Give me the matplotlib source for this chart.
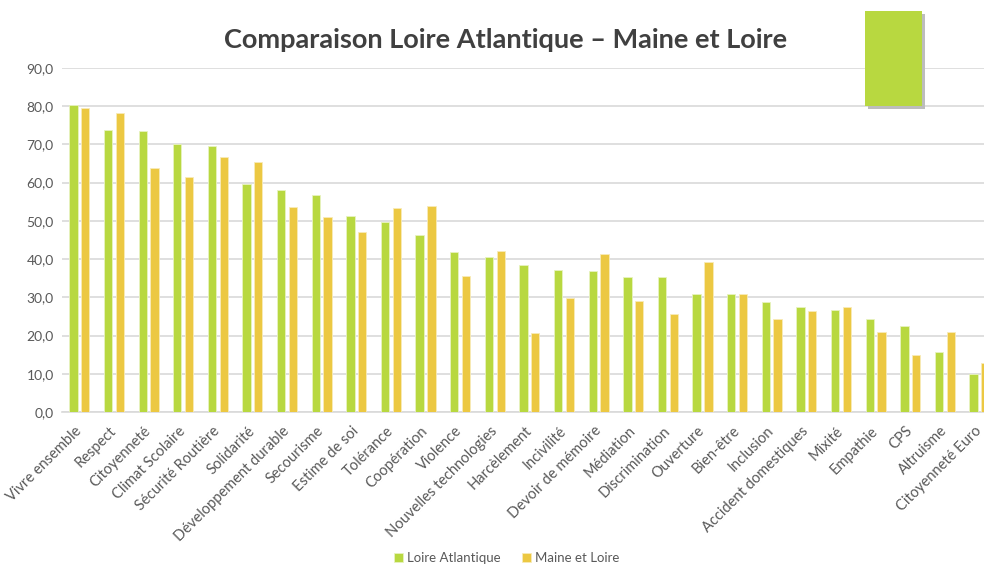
import matplotlib.pyplot as plt
import numpy as np
from matplotlib.patches import Rectangle

categories = ["Vivre ensemble", "Respect", "Citoyenneté", "Climat Scolaire", "Sécurité Routière",
              "Solidarité", "Développement durable", "Secourisme", "Estime de soi", "Tolérance",
              "Coopération", "Violence", "Nouvelles technologies", "Harcèlement", "Incivilité",
              "Devoir de mémoire", "Médiation", "Discrimination", "Ouverture", "Bien-être",
              "Inclusion", "Accident domestiques", "Mixité", "Empathie", "CPS", "Altruisme",
              "Citoyenneté Euro"]
loire_atlantique = [80.3, 73.7, 73.4, 70.1, 69.5, 59.6, 58.0, 56.8, 51.2, 49.6,
                    46.3, 41.8, 40.5, 38.5, 37.2, 36.9, 35.3, 35.4, 30.9, 30.9,
                    28.8, 27.6, 26.8, 24.3, 22.6, 15.7, 10.0]
maine_et_loire = [79.5, 78.3, 63.8, 61.4, 66.7, 65.5, 53.6, 51.1, 47.1, 53.3,
                  53.8, 35.6, 42.2, 20.8, 29.9, 41.3, 29.1, 25.6, 39.2, 30.9,
                  24.4, 26.4, 27.6, 21.0, 14.9, 21.0, 12.8]

green = "#B8D840"
yellow = "#ECC842"
grey_txt = "#595959"

plt.rcParams['font.family'] = ['Lato', 'DejaVu Sans']

fig = plt.figure(figsize=(9.84, 5.66), dpi=100)
ax = fig.add_axes([0.063, 0.272, 0.950, 0.608])

x = np.arange(len(categories))
w = 0.24
ax.bar(x - 0.17, loire_atlantique, w, color=green, edgecolor="#E8F3C0", linewidth=0.6,
       label="Loire Atlantique", zorder=3)
ax.bar(x + 0.17, maine_et_loire, w, color=yellow, edgecolor="#F8EBB8", linewidth=0.6,
       label="Maine et Loire", zorder=3)

ax.set_xlim(-0.5, len(categories) - 0.5)
ax.set_ylim(0, 90)
ax.set_yticks(np.arange(0, 91, 10))
ax.set_yticklabels([f"{v:.1f}".replace(".", ",") for v in range(0, 91, 10)])
ax.grid(axis='y', color="#D9D9D9", linewidth=1.2, zorder=0)
for s in ["top", "right", "left"]:
    ax.spines[s].set_visible(False)
ax.spines["bottom"].set_color("#D9D9D9")
ax.spines["bottom"].set_linewidth(1.2)
ax.tick_params(axis='both', length=0, colors=grey_txt, labelsize=10)
ax.tick_params(axis='y', pad=6)
ax.tick_params(axis='x', pad=12)
ax.set_xticks(x)
ax.set_xticklabels(categories, rotation=45, ha='right', va='center', rotation_mode='anchor',
                   fontsize=10.5)

fig.text(0.514, 0.93, "Comparaison Loire Atlantique – Maine et Loire", ha='center', va='center',
         fontsize=19.5, fontweight='bold', color="#404040")

# stray shape in the top right corner
fig.patches.append(Rectangle((0.882, 0.808), 0.058, 0.168, transform=fig.transFigure,
                             facecolor="#BDBDBD", edgecolor="none", zorder=1))
fig.patches.append(Rectangle((0.879, 0.812), 0.058, 0.168, transform=fig.transFigure,
                             facecolor=green, edgecolor="none", zorder=2))

fig.legend(loc='center', bbox_to_anchor=(0.515, 0.014), ncol=2, frameon=False,
           fontsize=9.5, handlelength=0.7, handleheight=0.7, columnspacing=1.6,
           handletextpad=0.3, labelcolor=grey_txt)

fig.savefig("out.png", dpi=100)
